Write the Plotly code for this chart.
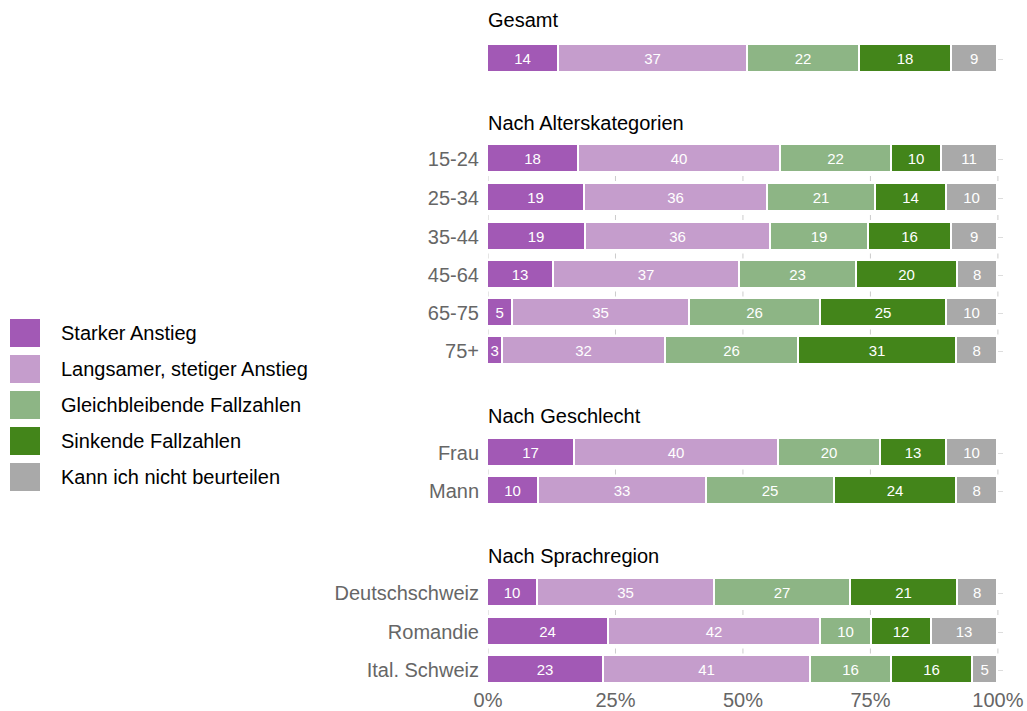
import plotly.graph_objects as go

series = ["Starker Anstieg", "Langsamer, stetiger Anstieg", "Gleichbleibende Fallzahlen",
          "Sinkende Fallzahlen", "Kann ich nicht beurteilen"]
colors = ["#a259b5", "#c59dcc", "#8db585", "#43851a", "#a9a9a9"]

rows = ["Gesamt", "15-24", "25-34", "35-44", "45-64", "65-75", "75+",
        "Frau", "Mann", "Deutschschweiz", "Romandie", "Ital. Schweiz"]
row_labels = ["", "15-24", "25-34", "35-44", "45-64", "65-75", "75+",
              "Frau", "Mann", "Deutschschweiz", "Romandie", "Ital. Schweiz"]
row_group = [0, 1, 1, 1, 1, 1, 1, 2, 2, 3, 3, 3]

starker = [14, 18, 19, 19, 13, 5, 3, 17, 10, 10, 24, 23]
langsamer = [37, 40, 36, 36, 37, 35, 32, 40, 33, 35, 42, 41]
gleich = [22, 22, 21, 19, 23, 26, 26, 20, 25, 27, 10, 16]
sinkend = [18, 10, 14, 16, 20, 25, 31, 13, 24, 21, 12, 16]
kann = [9, 11, 10, 9, 8, 10, 8, 10, 8, 8, 13, 5]
values = [starker, langsamer, gleich, sinkend, kann]

headers = ["Gesamt", "Nach Alterskategorien", "Nach Geschlecht", "Nach Sprachregion"]

x_ticks = [0, 25, 50, 75, 100]
x_ticktext = ["0%", "25%", "50%", "75%", "100%"]

# layout positions (vertical positions in pixel-like units, top = small)
row_pos = [59, 159, 198, 237, 275, 313, 351, 453, 491, 593, 632, 670]
header_pos = [20, 123, 416, 556]

W, H = 1027, 711
L, R, T, B = 488, 24, 5, 25
Y_TOP, Y_BOT = 5, 686

def px_x(px):
    return (px - L) / (W - L - R)

def px_y(py):
    return (Y_BOT - py) / (Y_BOT - Y_TOP)

FONT = "Liberation Sans, Arial, Helvetica, sans-serif"
FS = 20

fig = go.Figure()
for name, col, vals in zip(series, colors, values):
    fig.add_trace(go.Bar(
        y=row_pos, x=vals, orientation="h", name=name,
        marker=dict(color=col, line=dict(color="white", width=1.8)),
        width=28,
        text=[str(v) for v in vals], textposition="inside",
        insidetextanchor="middle",
        textfont=dict(color="white", size=15, family=FONT),
        constraintext="none",
        showlegend=False,
    ))

annotations = []
for h, p in zip(headers, header_pos):
    annotations.append(dict(text=h, xref="paper", yref="y", x=0, y=p, xshift=-2,
                            xanchor="left", yanchor="middle", showarrow=False,
                            font=dict(size=FS, color="black", family=FONT)))

shapes = []
leg_y = [333, 369, 405, 441, 477]
for name, col, ly in zip(series, colors, leg_y):
    shapes.append(dict(type="rect", xref="paper", yref="paper",
                       x0=px_x(10), x1=px_x(40), y0=px_y(ly + 14), y1=px_y(ly - 14),
                       fillcolor=col, line=dict(width=0)))
    annotations.append(dict(text=name, xref="paper", yref="paper", x=px_x(59), y=px_y(ly),
                            xanchor="left", yanchor="middle", showarrow=False,
                            font=dict(size=FS, color="black", family=FONT)))

# short grid marks between consecutive rows of the same group
for i in range(len(row_pos) - 1):
    if row_group[i] == row_group[i + 1]:
        mid = (row_pos[i] + row_pos[i + 1]) / 2
        for xv in x_ticks:
            shapes.append(dict(type="line", xref="x", yref="y",
                               x0=xv, x1=xv, y0=mid - 2.5, y1=mid + 2.5,
                               line=dict(color="#cccccc", width=1)))

fig.update_layout(
    barmode="stack", barnorm="percent",
    width=W, height=H,
    margin=dict(l=L, r=R, t=T, b=B, pad=0, autoexpand=False),
    plot_bgcolor="white", paper_bgcolor="white",
    font=dict(family=FONT),
    annotations=annotations, shapes=shapes,
    uniformtext=dict(minsize=15, mode="show"),
    bargap=0,
)
fig.update_xaxes(range=[0, 101], tickvals=x_ticks, ticktext=x_ticktext,
                 showgrid=False, automargin=False,
                 zeroline=False, showline=False, ticks="",
                 tickfont=dict(size=FS, color="#666666", family=FONT))
fig.update_yaxes(range=[Y_BOT, Y_TOP], tickvals=row_pos, ticktext=row_labels,
                 showgrid=True, gridcolor="#dddddd", gridwidth=1, automargin=False,
                 zeroline=False, showline=False, ticks="", ticklabelstandoff=8,
                 tickfont=dict(size=FS, color="#666666", family=FONT))

fig.write_html("out.html", config={"displayModeBar": False},
               post_script="document.body.style.margin='0px';document.body.style.overflow='hidden';")
